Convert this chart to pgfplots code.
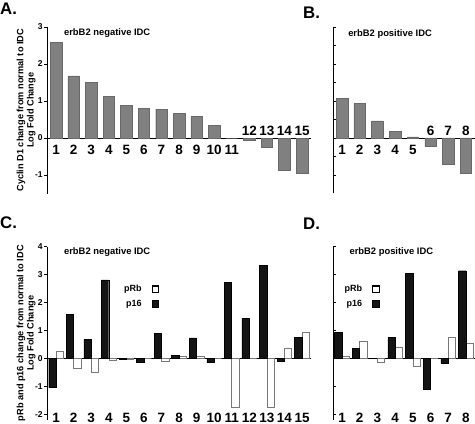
\documentclass[border=0pt]{standalone}
\usepackage{fontspec}
\setmainfont{Liberation Sans}
\usepackage{pgfplots}
\pgfplotsset{compat=1.18}
\definecolor{bargray}{RGB}{128,128,128}
\definecolor{baredge}{RGB}{105,105,105}
\definecolor{wedge}{RGB}{120,120,120}
\newcommand{\lblfont}{\fontsize{13.5}{14}\selectfont\bfseries}
\newcommand{\ttlfont}{\fontsize{9.4}{11}\selectfont\bfseries}
\newcommand{\letfont}{\fontsize{16.8}{18}\selectfont\bfseries}
\pgfplotsset{
  panel/.style={
    scale only axis, anchor=south west, clip=false,
    axis x line*=middle, axis y line*=left,
    xtick=\empty,
    axis line style={line width=0.8pt,-},
    tick style={black, line width=0.7pt},
    major tick length=3pt,
    /pgf/number format/assume math mode=true,
    yticklabel style={font=\fontsize{8.5}{9}\selectfont\bfseries, inner sep=1.5pt},
    every axis y label/.style={at={(axis description cs:-0.08,0.5)}, rotate=90, anchor=center,
      font=\fontsize{9.2}{10.2}\selectfont\bfseries, align=center},
  },
  below labels/.style={draw=none, nodes near coords, point meta=explicit symbolic,
    every node near coord/.append style={anchor=north, inner sep=0pt, yshift=-7pt, font=\lblfont}},
  above labels/.style={draw=none, nodes near coords, point meta=explicit symbolic,
    every node near coord/.append style={anchor=south, inner sep=0pt, yshift=2pt, font=\lblfont}},
  mid labels/.style={draw=none, nodes near coords, point meta=explicit symbolic,
    every node near coord/.append style={anchor=center, inner sep=0pt, yshift=1.8pt, font=\lblfont}},
  graybar/.style={ybar, bar width=11.5pt, fill=bargray, draw=baredge, line width=0.4pt},
  whitebar/.style={ybar, bar width=7.3pt, bar shift=3.7pt, fill=white, draw=wedge, line width=0.6pt,
    legend image code/.code={\draw[fill=white,draw=black,line width=1.1pt] (0pt,-3.2pt) rectangle (6.4pt,3.2pt);}},
  blackbar/.style={ybar, bar width=7.3pt, bar shift=-3.7pt, fill=black!92, draw=black, line width=0.4pt,
    legend image code/.code={\draw[fill=black!92,draw=black,line width=0.6pt] (0pt,-3.2pt) rectangle (6.4pt,3.2pt);}},
  leg/.style={legend plot pos=right, legend cell align=right,
    legend style={draw=none, fill=none, inner sep=0pt, font=\fontsize{9}{10}\selectfont\bfseries,
      row sep=2.5pt, /tikz/every odd column/.append style={column sep=8pt}}},
}
\begin{document}
\begin{tikzpicture}
\useasboundingbox (0pt,0pt) rectangle (475pt,424pt);

% ---------------- A ----------------
\begin{axis}[panel, at={(47.3pt,230.5pt)}, width=263.5pt, height=166.5pt,
  xmin=0.5, xmax=15.5, ymin=-1.5, ymax=3, ytick={-1,0,1,2,3},
  tick align=outside,
  ylabel={Cyclin D1 change from normal to IDC\\Log Fold Change}]
\addplot[graybar] coordinates {(1,2.59) (2,1.68) (3,1.51) (4,1.13) (5,0.88) (6,0.81) (7,0.78) (8,0.67) (9,0.59) (10,0.34) (11,0) (12,-0.07) (13,-0.26) (14,-0.87) (15,-0.94)};
\addplot[below labels] coordinates {(1,0)[1] (2,0)[2] (3,0)[3] (4,0)[4] (5,0)[5] (6,0)[6] (7,0)[7] (8,0)[8] (9,0)[9] (10,0)[10] (11,0)[11]};
\addplot[above labels] coordinates {(12,0)[12] (13,0)[13] (14,0)[14] (15,0)[15]};
\node[anchor=west, font=\ttlfont, inner sep=0pt] at (rel axis cs:0.063,0.964) {erbB2 negative IDC};
\end{axis}

% ---------------- B ----------------
\begin{axis}[panel, at={(333.2pt,230.5pt)}, width=141.6pt, height=166.5pt,
  xmin=0.5, xmax=8.5, ymin=-1.5, ymax=3, ytick={-1,-0.5,...,3}, yticklabels={},
  tick align=inside, major tick length=2.5pt]
\addplot[graybar] coordinates {(1,1.07) (2,0.94) (3,0.46) (4,0.18) (5,0.03) (6,-0.23) (7,-0.71) (8,-0.94)};
\addplot[below labels] coordinates {(1,0)[1] (2,0)[2] (3,0)[3] (4,0)[4] (5,0)[5]};
\addplot[above labels] coordinates {(6,0)[6] (7,0)[7] (8,0)[8]};
\node[anchor=west, font=\ttlfont, inner sep=0pt] at (rel axis cs:0.105,0.958) {erbB2 positive IDC};
\end{axis}

% ---------------- C ----------------
\begin{axis}[panel, leg, at={(47.3pt,4.3pt)}, width=263.5pt, height=173pt,
  xmin=0.5, xmax=15.5, ymin=-2.2, ymax=4, ytick={-2,-1,0,1,2,3,4},
  tick align=outside,
  ylabel={pRb and p16 change from normal to IDC\\Log Fold Change},
  legend style={at={(0.425,0.79)}, anchor=north east}]
\addplot[whitebar] coordinates {(1,0.26) (2,-0.36) (3,-0.49) (4,-0.07) (5,-0.02) (6,0) (7,-0.12) (8,0.08) (9,0.06) (10,0) (11,-1.76) (12,0) (13,-1.76) (14,0.36) (15,0.94)};
\addlegendentry{pRb}
\addplot[blackbar] coordinates {(1,-1.05) (2,1.58) (3,0.68) (4,2.81) (5,-0.02) (6,-0.15) (7,0.89) (8,0.11) (9,0.73) (10,-0.15) (11,2.71) (12,1.42) (13,3.32) (14,-0.11) (15,0.76)};
\addlegendentry{p16}
\addplot[mid labels, forget plot] coordinates {(1,-2.2)[1] (2,-2.2)[2] (3,-2.2)[3] (4,-2.2)[4] (5,-2.2)[5] (6,-2.2)[6] (7,-2.2)[7] (8,-2.2)[8] (9,-2.2)[9] (10,-2.2)[10] (11,-2.2)[11] (12,-2.2)[12] (13,-2.2)[13] (14,-2.2)[14] (15,-2.2)[15]};
\node[anchor=west, font=\ttlfont, inner sep=0pt] at (rel axis cs:0.063,0.971) {erbB2 negative IDC};
\end{axis}

% ---------------- D ----------------
\begin{axis}[panel, leg, at={(333.2pt,4.3pt)}, width=141.6pt, height=173pt,
  xmin=0.5, xmax=8.5, ymin=-2.2, ymax=4, ytick={-2,-1,0,1,2,3,4}, yticklabels={},
  tick align=inside, major tick length=2.5pt,
  legend style={at={(0.33,0.79)}, anchor=north east}]
\addplot[whitebar] coordinates {(1,0.07) (2,0.62) (3,-0.13) (4,0.40) (5,-0.29) (6,0) (7,0.76) (8,0.55)};
\addlegendentry{pRb}
\addplot[blackbar] coordinates {(1,0.92) (2,0.35) (3,0) (4,0.75) (5,3.05) (6,-1.12) (7,-0.18) (8,3.14)};
\addlegendentry{p16}
\addplot[mid labels, forget plot] coordinates {(1,-2.2)[1] (2,-2.2)[2] (3,-2.2)[3] (4,-2.2)[4] (5,-2.2)[5] (6,-2.2)[6] (7,-2.2)[7] (8,-2.2)[8]};
\node[anchor=west, font=\ttlfont, inner sep=0pt] at (rel axis cs:0.114,0.967) {erbB2 positive IDC};
\end{axis}

% panel letters
\node[anchor=north west, inner sep=0pt, font=\letfont] at (0pt,421pt) {A.};
\node[anchor=north west, inner sep=0pt, font=\letfont] at (303pt,417.3pt) {B.};
\node[anchor=north west, inner sep=0pt, font=\letfont] at (0pt,207pt) {C.};
\node[anchor=north west, inner sep=0pt, font=\letfont] at (303pt,206pt) {D.};
\end{tikzpicture}
\end{document}
